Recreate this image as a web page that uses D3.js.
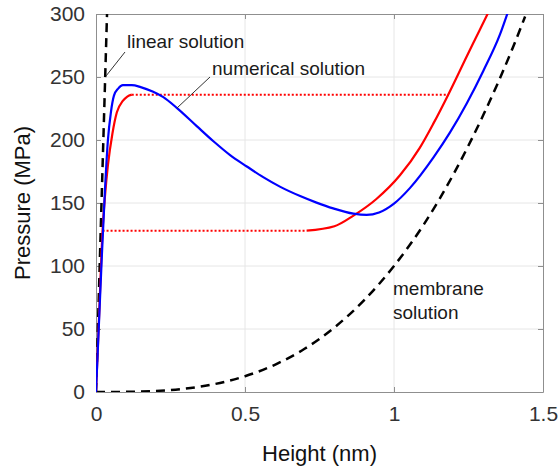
<!DOCTYPE html>
<html><head><meta charset="utf-8">
<script src="https://cdn.jsdelivr.net/npm/d3@7"></script>
<style>body{margin:0;background:#fff}svg{display:block}text{font-family:"Liberation Sans",Arial,sans-serif}</style>
</head><body>
<svg id="chart" width="560" height="467"></svg>
<script>
// ---- data ----
const xTicks = [0, 0.5, 1, 1.5];
const xTickLabels = ["0", "0.5", "1", "1.5"];
const yTicks = [0, 50, 100, 150, 200, 250, 300];
const yTickLabels = ["0", "50", "100", "150", "200", "250", "300"];

const linearH = [0, 0.037];
const linearP = [0, 300];

const membraneH = [0, 0.1, 0.2, 0.3, 0.4, 0.5, 0.6, 0.7, 0.8, 0.9, 1.0, 1.1, 1.2, 1.3, 1.4, 1.44];
const membraneP = [0, 0.1, 0.8, 2.7, 6.4, 12.5, 21.6, 34.3, 51.2, 72.9, 100, 133, 173, 220, 274, 298];

const blueH = [0, 0.01, 0.02, 0.03, 0.04, 0.05, 0.06, 0.075, 0.09, 0.12, 0.15, 0.19, 0.226, 0.271, 0.338, 0.394, 0.45, 0.506, 0.561, 0.617, 0.685, 0.74, 0.796, 0.864, 0.908, 0.95, 1.0, 1.054, 1.132, 1.188, 1.244, 1.3, 1.356, 1.39];
const blueP = [0, 55, 110, 160, 200, 222, 235, 241, 243.5, 243.5, 242, 238.5, 234, 225.5, 211, 199, 188, 179, 170.5, 163, 155.5, 150.3, 145.7, 141.5, 140.5, 142.5, 149.5, 162, 186, 206, 229, 255, 284, 307];

const redRiseH = [0, 0.01, 0.022, 0.03, 0.04, 0.055, 0.07, 0.09, 0.105, 0.12];
const redRiseP = [0, 58, 128, 155, 180, 205, 222, 231, 234.5, 236];
const redUpperH = [0.707, 0.8, 0.864, 0.94, 1.02, 1.087, 1.132, 1.182, 1.221, 1.266, 1.316, 1.33];
const redUpperP = [128, 131.5, 140, 153, 172, 194, 213, 236, 255, 277, 301, 308];

const dotHighH = [0.12, 1.182];
const dotHighP = [236, 236];
const dotLowH = [0.022, 0.707];
const dotLowP = [128, 128];

// ---- layout ----
const svg = d3.select("#chart");
const L = 96, R = 543, T = 14, B = 392;
const x = d3.scaleLinear().domain([0, 1.5]).range([L, R]);
const y = d3.scaleLinear().domain([0, 300]).range([B, T]);

// grid
svg.append("g").selectAll("line").data(xTicks.slice(1, -1)).join("line")
  .attr("x1", d => x(d)).attr("x2", d => x(d)).attr("y1", T).attr("y2", B)
  .attr("stroke", "#e6e6e6").attr("stroke-width", 1);
svg.append("g").selectAll("line").data(yTicks.slice(1, -1)).join("line")
  .attr("y1", d => y(d)).attr("y2", d => y(d)).attr("x1", L).attr("x2", R)
  .attr("stroke", "#e6e6e6").attr("stroke-width", 1);

// axes
const axColor = "#8f8f8f";
const xAxisB = d3.axisBottom(x).tickValues(xTicks).tickFormat((d, i) => xTickLabels[i]).tickSizeInner(-5).tickSizeOuter(0).tickPadding(14);
const yAxisL = d3.axisLeft(y).tickValues(yTicks).tickFormat((d, i) => yTickLabels[i]).tickSizeInner(-5).tickSizeOuter(0).tickPadding(11);
const xAxisT = d3.axisTop(x).tickValues(xTicks).tickFormat("").tickSizeInner(-5).tickSizeOuter(0);
const yAxisR = d3.axisRight(y).tickValues(yTicks).tickFormat("").tickSizeInner(-5).tickSizeOuter(0);

function style(g) {
  g.selectAll("path").attr("stroke", axColor);
  g.selectAll("line").attr("stroke", axColor);
  g.selectAll("text").attr("fill", "#333").style("font-size", "21px").style("font-family", "'Liberation Sans', Arial, sans-serif");
}
svg.append("g").attr("transform", `translate(0,${B})`).call(xAxisB).call(style);
svg.append("g").attr("transform", `translate(${L},0)`).call(yAxisL).call(style);
svg.append("g").attr("transform", `translate(0,${T})`).call(xAxisT).call(style);
svg.append("g").attr("transform", `translate(${R},0)`).call(yAxisR).call(style);

// clip
svg.append("clipPath").attr("id", "clip").append("rect").attr("x", L).attr("y", T).attr("width", R - L).attr("height", B - T);
const plot = svg.append("g").attr("clip-path", "url(#clip)");

const line = d3.line().x(d => x(d[0])).y(d => y(d[1])).curve(d3.curveMonotoneX);
const lineLin = d3.line().x(d => x(d[0])).y(d => y(d[1]));
const zip = (a, b) => a.map((v, i) => [v, b[i]]);

plot.append("path").attr("d", lineLin(zip(dotHighH, dotHighP))).attr("fill", "none")
  .attr("stroke", "#ff0000").attr("stroke-width", 2).attr("stroke-dasharray", "2,2");
plot.append("path").attr("d", lineLin(zip(dotLowH, dotLowP))).attr("fill", "none")
  .attr("stroke", "#ff0000").attr("stroke-width", 2).attr("stroke-dasharray", "2,2");

plot.append("path").attr("d", line(zip(membraneH, membraneP))).attr("fill", "none")
  .attr("stroke", "#000").attr("stroke-width", 2.5).attr("stroke-dasharray", "9,6");
plot.append("path").attr("d", lineLin(zip(linearH, linearP))).attr("fill", "none")
  .attr("stroke", "#000").attr("stroke-width", 2.5).attr("stroke-dasharray", "9,6");

plot.append("path").attr("d", line(zip(redRiseH, redRiseP))).attr("fill", "none")
  .attr("stroke", "#ff0000").attr("stroke-width", 2.2);
plot.append("path").attr("d", line(zip(redUpperH, redUpperP))).attr("fill", "none")
  .attr("stroke", "#ff0000").attr("stroke-width", 2.2);
plot.append("path").attr("d", line(zip(blueH, blueP))).attr("fill", "none")
  .attr("stroke", "#0000ff").attr("stroke-width", 2.2);

// axis labels
svg.append("text").attr("x", x(0.75)).attr("y", 461).attr("text-anchor", "middle")
  .style("font-size", "22px").attr("fill", "#111").text("Height (nm)");
svg.append("text").attr("transform", `translate(30,${(T + B) / 2}) rotate(-90)`).attr("text-anchor", "middle")
  .style("font-size", "22px").attr("fill", "#111").text("Pressure (MPa)");

// annotations
const ann = svg.append("g").style("font-size", "19px").attr("fill", "#1a1a1a");
ann.append("text").attr("x", 127).attr("y", 48).text("linear solution");
ann.append("text").attr("x", 212).attr("y", 75).text("numerical solution");
ann.append("text").attr("x", 393).attr("y", 295).text("membrane");
ann.append("text").attr("x", 393).attr("y", 319).text("solution");
svg.append("line").attr("x1", 125).attr("y1", 52).attr("x2", 106).attr("y2", 76).attr("stroke", "#333").attr("stroke-width", 1);
svg.append("line").attr("x1", 210).attr("y1", 77).attr("x2", 177).attr("y2", 108).attr("stroke", "#333").attr("stroke-width", 1);
</script>
</body></html>
